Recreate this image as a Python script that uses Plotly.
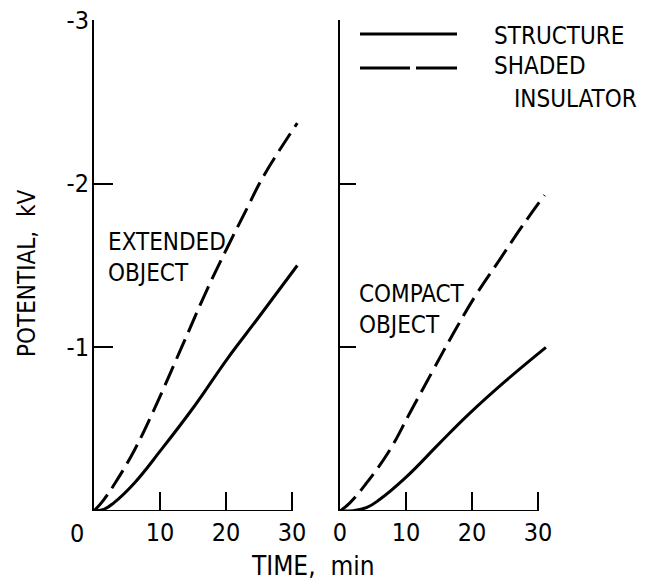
import plotly.graph_objects as go

# ---- data ----
ext_struct_t = [0, 1.5, 3.0, 6.1, 10.1, 15.2, 20.2, 24.7, 30.8]
ext_struct_v = [0, -0.01, -0.05, -0.17, -0.37, -0.64, -0.93, -1.17, -1.50]
ext_ins_t = [0, 1.5, 3.5, 6.1, 9.1, 13.6, 17.1, 20.2, 23.2, 25.6, 30.8]
ext_ins_v = [0, -0.07, -0.19, -0.37, -0.62, -1.03, -1.35, -1.61, -1.85, -2.04, -2.37]

comp_struct_t = [0, 2.0, 4.0, 6.0, 10.1, 15.1, 19.6, 25.1, 31.2]
comp_struct_v = [0, -0.002, -0.02, -0.07, -0.21, -0.415, -0.595, -0.795, -1.00]
comp_ins_t = [0, 1.5, 4.0, 7.5, 10.6, 14.1, 17.1, 20.6, 24.1, 27.6, 31.0]
comp_ins_v = [0, -0.05, -0.17, -0.37, -0.60, -0.86, -1.08, -1.32, -1.53, -1.74, -1.93]

x_ticks = [0, 10, 20, 30]
y_ticks = [0, -1, -2, -3]
y_tick_labels = ["", "-1", "-2", "-3"]
x_tick_labels_left = ["", "10", "20", "30"]
x_tick_labels_right = ["0", "10", "20", "30"]

panel_labels = ["EXTENDED<br>OBJECT", "COMPACT<br>OBJECT"]
legend_names = ["STRUCTURE", "SHADED INSULATOR"]

# ---- layout helpers ----
W, H = 649, 582
FONT = "DejaVu Sans Condensed, Liberation Sans Narrow, sans-serif"
def px(x):
    return x / W
def py(y):
    return 1 - y / H

XMAX = 31.5
scale = 6.6  # px per minute
left_dom = [px(94), px(94 + XMAX * scale)]
right_dom = [px(340), px(340 + XMAX * scale)]
y_dom = [py(511), py(20)]

fig = go.Figure()
line_solid = dict(color="black", width=3, shape="spline", smoothing=1.2)
line_dash = dict(color="black", width=3, shape="spline", smoothing=1.2, dash="21px,8px")

fig.add_trace(go.Scatter(x=ext_struct_t, y=ext_struct_v, mode="lines", line=line_solid,
                         xaxis="x", yaxis="y", showlegend=False))
fig.add_trace(go.Scatter(x=ext_ins_t, y=ext_ins_v, mode="lines", line=line_dash,
                         xaxis="x", yaxis="y", showlegend=False))
fig.add_trace(go.Scatter(x=comp_struct_t, y=comp_struct_v, mode="lines", line=line_solid,
                         xaxis="x2", yaxis="y2", showlegend=False))
fig.add_trace(go.Scatter(x=comp_ins_t, y=comp_ins_v, mode="lines", line=line_dash,
                         xaxis="x2", yaxis="y2", showlegend=False))

tickfont = dict(family=FONT, size=25, color="black")
xcommon = dict(range=[0, XMAX], tickvals=x_ticks, ticks="inside", ticklen=19, tickwidth=2,
               tickcolor="black", showline=False, showgrid=False, zeroline=False,
               tickfont=tickfont, ticklabelstandoff=4, automargin=False)
ycommon = dict(range=[0, -3], tickvals=y_ticks, ticks="inside", tickwidth=2,
               tickcolor="black", showline=True, linecolor="black", linewidth=2,
               showgrid=False, zeroline=False, tickfont=tickfont, automargin=False)

fig.update_layout(
    width=W, height=H,
    template="none",
    margin=dict(l=0, r=0, t=0, b=0, autoexpand=False),
    paper_bgcolor="white", plot_bgcolor="white",
    xaxis=dict(domain=left_dom, anchor="y", ticktext=x_tick_labels_left, **xcommon),
    yaxis=dict(domain=y_dom, anchor="x", ticktext=y_tick_labels, ticklen=19, ticklabelstandoff=-2, **ycommon),
    xaxis2=dict(domain=right_dom, anchor="y2", ticktext=x_tick_labels_right, **xcommon),
    yaxis2=dict(domain=y_dom, anchor="x2", showticklabels=False, ticklen=16, **ycommon),
    font=dict(family=FONT, color="black"),
)

# x-axis spines from 0 to the last tick
for xr, yr in (("x", "y"), ("x2", "y2")):
    fig.add_shape(type="line", xref=xr, yref=yr, x0=min(x_ticks), x1=max(x_ticks), y0=0, y1=0,
                  line=dict(color="black", width=2))

# origin "0" label of the left panel
fig.add_annotation(x=0, y=0, xref="x", yref="y", text="0", showarrow=False,
                   font=dict(family=FONT, size=25), xshift=-17, yshift=-22)

# panel labels
fig.add_annotation(x=px(106), y=py(257), xref="paper", yref="paper", text=panel_labels[0],
                   showarrow=False, xanchor="left", yanchor="middle", align="left",
                   font=dict(family=FONT, size=24))
fig.add_annotation(x=px(357), y=py(309), xref="paper", yref="paper", text=panel_labels[1],
                   showarrow=False, xanchor="left", yanchor="middle", align="left",
                   font=dict(family=FONT, size=24))

# axis titles
fig.add_annotation(x=px(313), y=py(566), xref="paper", yref="paper", text="TIME,  min",
                   showarrow=False, xanchor="center", yanchor="middle",
                   font=dict(family=FONT, size=26))
fig.add_annotation(x=px(27), y=py(274), xref="paper", yref="paper", text="POTENTIAL,  kV",
                   showarrow=False, textangle=-90, xanchor="center", yanchor="middle",
                   font=dict(family=FONT, size=24))

# legend (drawn)
fig.add_shape(type="line", xref="paper", yref="paper", x0=px(360), x1=px(457), y0=py(34), y1=py(34),
              line=dict(color="black", width=3))
fig.add_shape(type="line", xref="paper", yref="paper", x0=px(360), x1=px(457), y0=py(68), y1=py(68),
              line=dict(color="black", width=3, dash="50px,6px"))
fig.add_annotation(x=px(492), y=py(36), xref="paper", yref="paper", text=legend_names[0],
                   showarrow=False, xanchor="left", yanchor="middle", font=dict(family=FONT, size=24))
ins_words = legend_names[1].split(" ")
fig.add_annotation(x=px(492), y=py(66), xref="paper", yref="paper", text=ins_words[0],
                   showarrow=False, xanchor="left", yanchor="middle", font=dict(family=FONT, size=24))
fig.add_annotation(x=px(512), y=py(99), xref="paper", yref="paper", text=ins_words[1],
                   showarrow=False, xanchor="left", yanchor="middle", font=dict(family=FONT, size=24))

fig.write_html("out.html", config={"displayModeBar": False},
               post_script="document.body.style.margin='0px';")
